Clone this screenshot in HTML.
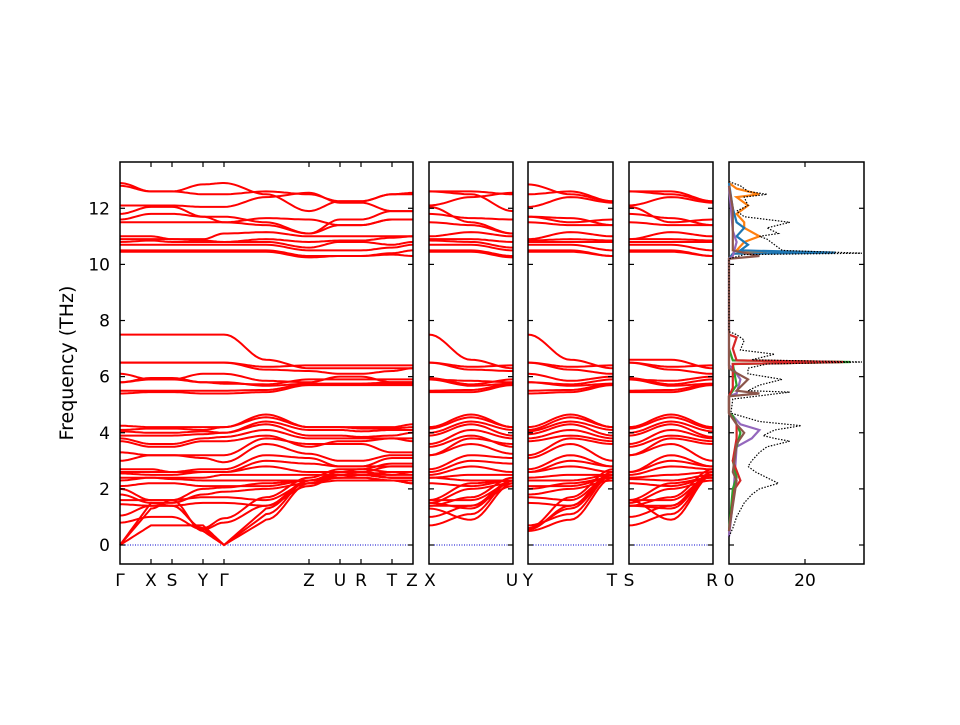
<!DOCTYPE html>
<html><head><meta charset="utf-8"><style>
body{margin:0;background:#fff;}
svg text{font-family:"DejaVu Sans","Liberation Sans",sans-serif;font-size:17px;fill:#000;}
</style></head><body>
<svg id="s" width="960" height="720" xmlns="http://www.w3.org/2000/svg">
<rect width="960" height="720" fill="#fff"/>
<g id="g"></g>
<text x="73" y="363" transform="rotate(-90 73 363)" text-anchor="middle" style="font-size:19px">Frequency (THz)</text>
</svg>
<script>
(function(){
const NS="http://www.w3.org/2000/svg";
const g=document.getElementById('g');
const Y=f=>545-f*28.06;
function el(t,a){const e=document.createElementNS(NS,t);for(const k in a)e.setAttribute(k,a[k]);g.appendChild(e);return e;}
function band(xs,vs,col,w){let d='';for(let i=0;i<xs.length-1;i++){const x0=xs[i],x1=xs[i+1],a=vs[i],b=vs[i+1];const lin=(a===0||b===0);const n=12;for(let k=0;k<=n;k++){if(i>0&&k==0)continue;const t=k/n;const s=lin?t:(1-Math.cos(Math.PI*t))/2;const x=x0+(x1-x0)*t,v=a+(b-a)*s;d+=(d?'L':'M')+x.toFixed(1)+' '+Y(v).toFixed(1);}}el('path',{d:d,fill:'none',stroke:col,'stroke-width':w});}
const upper=[[12.9,12.6,12.6,12.85,12.9,11.9,12.25,12.25,12.5,12.5],[12.8,12.6,12.6,12.5,12.5,12.5,12.25,12.25,12.5,12.55],[12.1,12.1,12.1,12.05,12.05,12.55,12.2,12.2,11.9,11.9],[11.8,12.05,12.05,11.7,11.7,11.1,11.6,11.6,11.9,11.9],[11.6,11.8,11.8,11.7,11.5,11.6,11.4,11.4,11.6,11.6],[11.5,11.5,11.5,11.5,11.5,11.1,11.4,11.4,11.6,11.6],[11.0,11.0,10.9,10.9,11.1,11.0,11.0,11.0,11.0,11.0],[10.9,10.9,10.9,10.85,10.8,10.8,10.85,10.85,10.95,11.0],[10.8,10.85,10.8,10.8,10.8,10.6,10.8,10.8,10.7,10.8],[10.7,10.7,10.7,10.7,10.7,10.5,10.5,10.5,10.6,10.7],[10.5,10.5,10.5,10.5,10.5,10.3,10.3,10.3,10.4,10.5],[10.45,10.45,10.45,10.45,10.45,10.25,10.3,10.3,10.35,10.3],
[7.5,7.5,7.5,7.5,7.5,6.3,6.3,6.3,6.3,6.3],[6.5,6.5,6.5,6.5,6.5,6.4,6.4,6.4,6.4,6.4],[6.5,6.5,6.5,6.5,6.5,6.2,6.1,6.1,6.2,6.3],[6.1,5.9,5.9,6.1,6.1,5.8,6.0,6.0,5.8,5.8],[5.8,5.95,5.95,5.8,5.75,5.9,5.9,5.9,5.9,5.9],[5.8,5.9,5.9,5.8,5.8,5.75,5.75,5.75,5.75,5.75],[5.5,5.5,5.5,5.5,5.5,5.75,5.75,5.75,5.8,5.8],[5.4,5.45,5.45,5.4,5.4,5.7,5.7,5.7,5.7,5.7]];
let bands=upper.map(b=>{const m=b[4]===7.5?6.6:(b[4]+b[5])/2+(b[4]>10?0.1:-0.1);return b.slice(0,5).concat([m],b.slice(5));});
bands=bands.concat([[4.25,4.2,4.2,4.2,4.2,4.65,4.2,4.2,4.2,4.2,4.3],[4.1,4.15,4.15,4.1,4.2,4.55,4.2,4.2,4.15,4.15,4.2],[4.05,4.0,4.0,4.05,4.0,4.4,4.1,4.1,4.05,4.1,4.1],[3.9,3.9,3.9,3.95,4.0,4.3,3.9,3.9,3.85,3.9,4.0],[3.8,3.6,3.6,3.8,3.85,4.1,3.8,3.8,3.8,3.8,3.8],[3.7,3.5,3.5,3.7,3.7,3.9,3.5,3.7,3.7,3.8,3.7],[3.3,3.2,3.2,3.2,3.2,3.8,3.6,3.6,3.6,3.3,3.3],[3.0,3.2,3.2,3.1,2.95,3.6,3.25,3.0,3.0,3.2,3.2],[2.7,2.7,2.6,2.7,2.7,3.2,3.1,2.8,2.8,3.1,3.1],[2.6,2.6,2.6,2.6,2.6,3.0,2.9,2.8,2.8,2.8,2.8],[2.55,2.5,2.5,2.6,2.6,2.8,2.6,2.6,2.7,2.6,2.6],[2.4,2.4,2.4,2.4,2.5,2.5,2.5,2.5,2.6,2.5,2.5],[2.3,2.4,2.35,2.3,2.3,2.3,2.3,2.5,2.5,2.4,2.4],[2.1,2.2,2.2,2.1,2.1,2.1,2.3,2.4,2.4,2.3,2.3],[2.0,1.6,1.6,2.0,2.05,2.2,2.3,2.4,2.4,2.3,2.2],[1.8,1.5,1.5,1.8,1.9,2.0,2.2,2.3,2.3,2.3,2.2],[1.6,1.6,1.6,1.7,1.7,1.6,2.2,2.5,2.5,2.4,2.4],[1.45,1.4,1.4,1.5,1.5,1.4,2.1,2.5,2.5,2.6,2.6],[1.05,1.4,1.4,0.6,0.95,1.7,2.4,2.7,2.7,2.9,2.9],[0.8,1.0,1.0,0.55,0.8,1.4,2.3,2.6,2.6,2.8,2.8],[0,1.5,1.4,0.6,0,1.3,2.3,2.5,2.5,2.4,2.4],[0,0.7,0.7,0.7,0,1.1,2.3,2.5,2.5,2.4,2.4],[0,1.3,1.6,0.5,0,0.9,2.2,2.4,2.5,2.5,2.6]]);
const xs=[120,151,172,203,224,266,309,340,361,392,413];
[[120,413],[429,513],[528,613],[629,713]].forEach(p=>el('line',{x1:p[0],x2:p[1],y1:Y(0),y2:Y(0),stroke:'#00c','stroke-width':1,'stroke-dasharray':'1,1.5'}));
bands.forEach(b=>band(xs,b,'#f00',2));
const sub=[[429,513,0],[528,613,1],[629,713,2]];
const fill0=[0.6,1.2,1.5];
sub.forEach(([a,c,k])=>{bands.forEach((b,i)=>{let v0=b[k===0?1:(k===1?3:2)],vm=b[5],v1=b[6+k];if(v0===0)v0=fill0[i%3];if(b[4]===7.5&&k===2)v0=6.6;band([a,(a+c)/2,c],[v0,vm,v1],'#f00',2);});});
const panels=[[120,413],[429,513],[528,613],[629,713],[729,864]];
panels.forEach(([a,c])=>{el('rect',{x:a,y:162,width:c-a,height:402,fill:'none',stroke:'#000','stroke-width':1.5});
for(let f=0;f<=12;f+=2){el('line',{x1:a,x2:a+5,y1:Y(f),y2:Y(f),stroke:'#000','stroke-width':1.2});el('line',{x1:c-5,x2:c,y1:Y(f),y2:Y(f),stroke:'#000','stroke-width':1.2});}});
for(let f=0;f<=12;f+=2){const t=el('text',{x:110,y:Y(f)+6,'text-anchor':'end'});t.textContent=f;}
const lab=[[120,'Γ'],[151,'X'],[172,'S'],[203,'Y'],[224,'Γ'],[309,'Z'],[340,'U'],[361,'R'],[392,'T'],[412,'Z'],[430,'X'],[512,'U'],[528,'Y'],[612,'T'],[629,'S'],[712,'R']];
lab.forEach(([x,l])=>{if(x>120&&x<410){el('line',{x1:x,x2:x,y1:162,y2:167,stroke:'#000','stroke-width':1.2});el('line',{x1:x,x2:x,y1:559,y2:564,stroke:'#000','stroke-width':1.2});}
const t=el('text',{x:x,y:586,'text-anchor':'middle'});t.textContent=l;});
[[729,'0'],[805,'20']].forEach(([x,l])=>{const t=el('text',{x:x,y:586,'text-anchor':'middle'});t.textContent=l;});
el('line',{x1:805,x2:805,y1:162,y2:167,stroke:'#000','stroke-width':1.2});el('line',{x1:805,x2:805,y1:559,y2:564,stroke:'#000','stroke-width':1.2});
const DX=v=>729+v*3.8;
function dos(pts,col,w,dash){let d='';pts.forEach((p,i)=>{d+=(i?'L':'M')+DX(p[1]).toFixed(1)+' '+Y(p[0]).toFixed(1);});const a={d:d,fill:'none',stroke:col,'stroke-width':w};if(dash)a['stroke-dasharray']=dash;el('path',a);}
const tot=[[0.3,0],[0.6,1],[1,2],[1.5,4],[1.8,6],[2,8],[2.2,13],[2.4,10],[2.6,7],[2.8,5],[3,6],[3.3,8],[3.5,10],[3.6,13],[3.7,16],[3.8,12],[3.9,9],[4.1,12],[4.25,19],[4.4,8],[4.6,3],[4.7,0.5],[5.2,1],[5.35,10],[5.45,16],[5.5,5],[5.7,8],[5.9,14],[6.1,5],[6.3,5],[6.45,10],[6.52,35],[6.6,6],[6.8,12],[6.95,3],[7.3,4],[7.5,2],[7.6,0],[10.2,0],[10.35,4],[10.4,35],[10.5,14],[10.7,12],[10.9,10],[11.0,8],[11.1,13],[11.3,10],[11.5,16],[11.7,4],[11.9,2],[12.1,5],[12.4,4],[12.5,10],[12.6,5],[12.8,3],[12.95,0]];
const cols=[
['#ff7f0e',[[10.2,0],[10.38,1],[10.42,10],[10.5,2],[10.8,4],[11.0,8],[11.3,4],[11.5,4],[11.8,2],[12.1,5],[12.4,2],[12.5,8],[12.7,2],[12.9,0]]],
['#1f77b4',[[10.2,0],[10.38,1],[10.42,28],[10.5,3],[10.7,5],[11.0,2],[11.3,4],[11.5,2],[12,1],[12.9,0]]],
['#9467bd',[[0.3,0],[1.5,1],[2.5,1.5],[3.5,2],[3.8,6],[4.1,8],[4.3,3],[4.6,1],[4.7,0],[5.3,0],[5.4,2],[5.9,3],[6.3,1],[6.4,0],[10.2,0],[10.3,1],[10.8,2],[11.2,1],[12,0.5],[12.8,0]]],
['#2ca02c',[[0.5,0],[2,1],[2.4,2],[3,1],[4,3],[4.6,1],[4.7,0],[5.3,0],[5.7,2],[6.45,1],[6.52,32],[6.58,1],[7,0]]],
['#d62728',[[0.5,0],[2,1.5],[2.3,3],[3,1],[3.8,2],[4.3,2],[4.7,0],[5.3,0],[5.6,1],[6.45,1],[6.52,30],[6.58,2],[7,1],[7.4,2],[7.5,0]]],
['#8c564b',[[0.5,0],[2.3,2],[2.6,1],[3.6,2],[4.0,4],[4.3,2],[4.7,0],[5.3,0],[5.4,8],[5.5,2],[5.9,5],[6.2,1],[6.3,0],[10.2,0],[10.3,8],[10.5,1],[11,1],[12,1],[12.8,0]]]];
cols.forEach(([c,p])=>dos(p,c,2.2));
dos(tot,'#000',1.2,'1.5,1.5');
})();
</script>
</body></html>
